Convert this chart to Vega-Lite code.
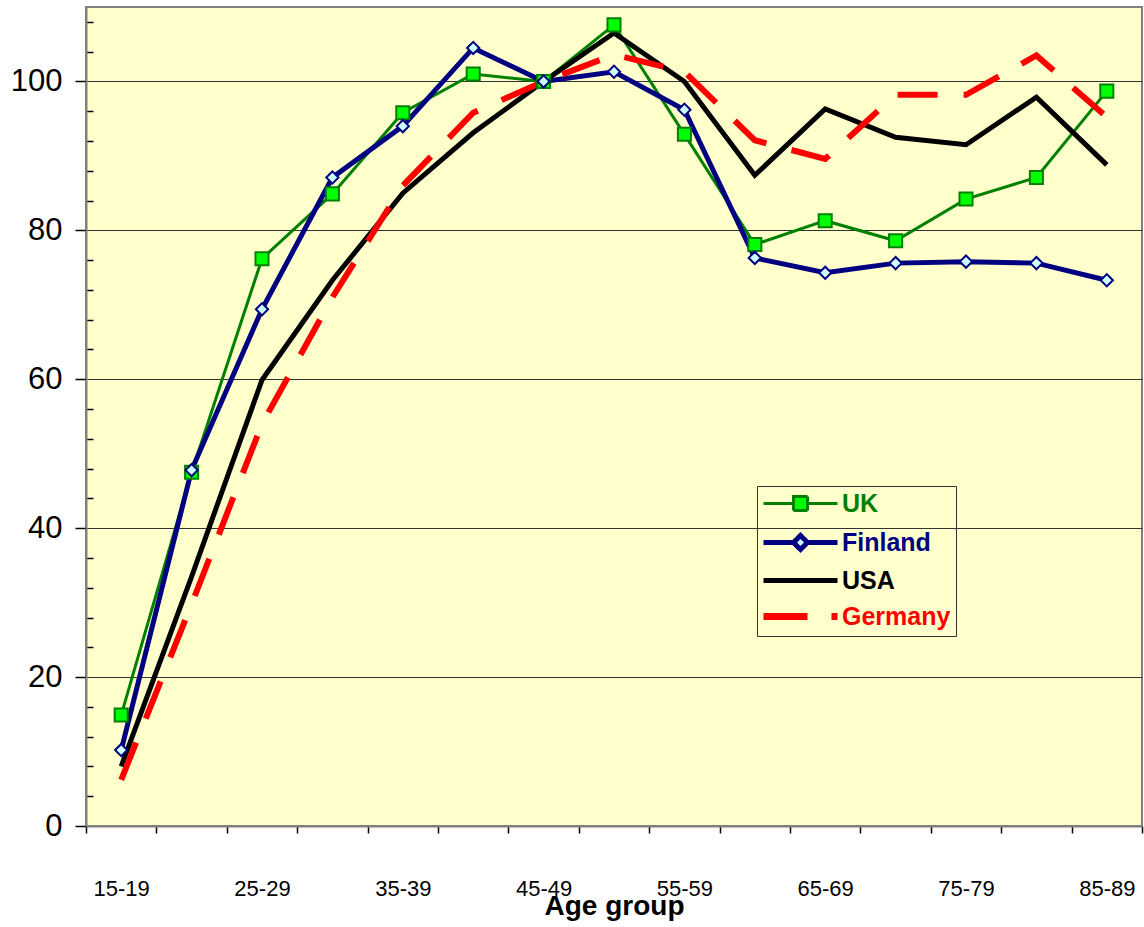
{
  "$schema": "https://vega.github.io/schema/vega-lite/v6.json",
  "width": 1056,
  "height": 819,
  "autosize": {"type": "none"},
  "padding": {"left": 86, "top": 7, "right": 2, "bottom": 101},
  "background": "white",
  "config": {
    "view": {"fill": "#FFFFCC", "stroke": "#808080", "strokeWidth": 2},
    "font": "Liberation Sans"
  },
  "data": {
    "values": [
      {"age": "15-19", "country": "UK", "value": 14.9},
      {"age": "20-24", "country": "UK", "value": 47.5},
      {"age": "25-29", "country": "UK", "value": 76.2},
      {"age": "30-34", "country": "UK", "value": 84.9},
      {"age": "35-39", "country": "UK", "value": 95.8},
      {"age": "40-44", "country": "UK", "value": 101.0},
      {"age": "45-49", "country": "UK", "value": 100.0},
      {"age": "50-54", "country": "UK", "value": 107.6},
      {"age": "55-59", "country": "UK", "value": 92.9},
      {"age": "60-64", "country": "UK", "value": 78.1},
      {"age": "65-69", "country": "UK", "value": 81.3},
      {"age": "70-74", "country": "UK", "value": 78.6},
      {"age": "75-79", "country": "UK", "value": 84.2},
      {"age": "80-84", "country": "UK", "value": 87.1},
      {"age": "85-89", "country": "UK", "value": 98.7},
      {"age": "15-19", "country": "Finland", "value": 10.2},
      {"age": "20-24", "country": "Finland", "value": 47.8},
      {"age": "25-29", "country": "Finland", "value": 69.4},
      {"age": "30-34", "country": "Finland", "value": 87.1},
      {"age": "35-39", "country": "Finland", "value": 94.0},
      {"age": "40-44", "country": "Finland", "value": 104.5},
      {"age": "45-49", "country": "Finland", "value": 100.0},
      {"age": "50-54", "country": "Finland", "value": 101.3},
      {"age": "55-59", "country": "Finland", "value": 96.2},
      {"age": "60-64", "country": "Finland", "value": 76.3},
      {"age": "65-69", "country": "Finland", "value": 74.3},
      {"age": "70-74", "country": "Finland", "value": 75.6},
      {"age": "75-79", "country": "Finland", "value": 75.8},
      {"age": "80-84", "country": "Finland", "value": 75.6},
      {"age": "85-89", "country": "Finland", "value": 73.3},
      {"age": "15-19", "country": "USA", "value": 8.0},
      {"age": "20-24", "country": "USA", "value": 33.5},
      {"age": "25-29", "country": "USA", "value": 59.9},
      {"age": "30-34", "country": "USA", "value": 73.3},
      {"age": "35-39", "country": "USA", "value": 85.0},
      {"age": "40-44", "country": "USA", "value": 93.1},
      {"age": "45-49", "country": "USA", "value": 100.0},
      {"age": "50-54", "country": "USA", "value": 106.5},
      {"age": "55-59", "country": "USA", "value": 100.0},
      {"age": "60-64", "country": "USA", "value": 87.4},
      {"age": "65-69", "country": "USA", "value": 96.3},
      {"age": "70-74", "country": "USA", "value": 92.5},
      {"age": "75-79", "country": "USA", "value": 91.5},
      {"age": "80-84", "country": "USA", "value": 97.9},
      {"age": "85-89", "country": "USA", "value": 88.8},
      {"age": "15-19", "country": "Germany", "value": 6.2},
      {"age": "20-24", "country": "Germany", "value": 29.8},
      {"age": "25-29", "country": "Germany", "value": 54.0},
      {"age": "30-34", "country": "Germany", "value": 71.0},
      {"age": "35-39", "country": "Germany", "value": 86.0},
      {"age": "40-44", "country": "Germany", "value": 95.8},
      {"age": "45-49", "country": "Germany", "value": 100.0},
      {"age": "50-54", "country": "Germany", "value": 103.6},
      {"age": "55-59", "country": "Germany", "value": 101.3},
      {"age": "60-64", "country": "Germany", "value": 92.1},
      {"age": "65-69", "country": "Germany", "value": 89.6},
      {"age": "70-74", "country": "Germany", "value": 98.2},
      {"age": "75-79", "country": "Germany", "value": 98.2},
      {"age": "80-84", "country": "Germany", "value": 103.5},
      {"age": "85-89", "country": "Germany", "value": 95.2}
    ]
  },
  "encoding": {
    "x": {
      "field": "age",
      "type": "ordinal",
      "scale": {
        "domain": ["15-19","20-24","25-29","30-34","35-39","40-44","45-49","50-54","55-59","60-64","65-69","70-74","75-79","80-84","85-89"],
        "paddingInner": 0,
        "paddingOuter": 0
      },
      "axis": {
        "title": "Age group",
        "titleFontSize": 28,
        "titleFontWeight": "bold",
        "titleColor": "black",
        "titlePadding": -7,
        "labelFontSize": 22,
        "labelColor": "black",
        "labelAngle": 0,
        "labelBaseline": "top",
        "labelPadding": 45,
        "tickBand": "extent",
        "tickSize": 7,
        "tickColor": "#000000",
        "tickWidth": 1.5,
        "domainColor": "#808080",
        "domainWidth": 2,
        "grid": false,
        "labelOverlap": false,
        "labelExpr": "indexof(['15-19','25-29','35-39','45-49','55-59','65-69','75-79','85-89'], datum.value) >= 0 ? datum.label : ''"
      }
    },
    "y": {
      "field": "value",
      "type": "quantitative",
      "scale": {"domain": [0, 110], "nice": false},
      "axis": {
        "title": null,
        "values": [0,4,8,12,16,20,24,28,32,36,40,44,48,52,56,60,64,68,72,76,80,84,88,92,96,100,104,108],
        "labelExpr": "datum.value % 20 === 0 ? datum.label : ''",
        "labelFontSize": 31,
        "labelColor": "black",
        "labelPadding": 13,
        "labelOverlap": false,
        "labelFlush": false,
        "tickSize": {"condition": {"test": "datum.value % 20 === 0", "value": 11}, "value": -7},
        "tickColor": "#000000",
        "tickWidth": 1.5,
        "domainColor": "#808080",
        "domainWidth": 2,
        "grid": true,
        "gridColor": {"condition": {"test": "datum.value % 20 === 0 && datum.value > 0", "value": "#333333"}, "value": "transparent"},
        "gridWidth": 1
      }
    },
    "color": {
      "field": "country",
      "type": "nominal",
      "scale": {
        "domain": ["UK", "Finland", "USA", "Germany"],
        "range": ["#008000", "#000080", "#000000", "#FF0000"]
      },
      "legend": {
        "orient": "none",
        "legendX": 671,
        "legendY": 479,
        "title": null,
        "padding": 5,
        "strokeColor": "#333333",
        "labelFontSize": 25,
        "labelFontWeight": "bold",
        "labelFont": "Liberation Sans",
        "labelOffset": 55,
        "symbolSize": 100,
        "rowPadding": 8,
        "encode": {
          "symbols": {
            "update": {
              "shape": {"signal": "datum.value === 'UK' ? 'M-2.2,0H3.8M6.6,0H12.6M3.8,-1.4H6.6V1.4H3.8Z' : datum.value === 'Finland' ? 'M-2.2,0H3.8M6.6,0H12.6M3.8,0L5.2,-1.4L6.6,0L5.2,1.4Z' : 'M-2.2,0H12.6'"},
              "fill": {"signal": "datum.value === 'UK' ? '#00FF00' : datum.value === 'Finland' ? '#CCFFFF' : 'transparent'"},
              "strokeWidth": {"signal": "datum.value === 'UK' ? 3 : datum.value === 'Germany' ? 7 : 5"},
              "strokeDash": {"signal": "datum.value === 'Germany' ? [44, 24] : [1, 0]"},
              "strokeCap": {"value": "butt"},
              "opacity": {"value": 1}
            }
          },
          "labels": {
            "update": {
              "fill": {"signal": "scale('color', datum.value)"}
            }
          }
        }
      }
    }
  },
  "layer": [
    {
      "transform": [{"filter": "datum.country === 'UK'"}],
      "mark": {"type": "line", "strokeWidth": 3}
    },
    {
      "transform": [{"filter": "datum.country === 'Finland'"}],
      "mark": {"type": "line", "strokeWidth": 5}
    },
    {
      "transform": [{"filter": "datum.country === 'USA'"}],
      "mark": {"type": "line", "strokeWidth": 5}
    },
    {
      "transform": [{"filter": "datum.country === 'Germany'"}],
      "mark": {"type": "line", "strokeWidth": 6, "strokeDash": [40, 26], "strokeCap": "butt"}
    },
    {
      "transform": [{"filter": "datum.country === 'UK'"}],
      "mark": {"type": "point", "shape": "square", "filled": true, "fill": "#00FF00", "stroke": "#008000", "strokeWidth": 2, "size": 170, "opacity": 1},
      "encoding": {"color": {"value": "#00FF00"}}
    },
    {
      "transform": [{"filter": "datum.country === 'Finland'"}],
      "mark": {"type": "point", "shape": "diamond", "filled": true, "fill": "#CCFFFF", "stroke": "#000080", "strokeWidth": 2, "size": 150, "opacity": 1},
      "encoding": {"color": {"value": "#CCFFFF"}}
    }
  ]
}
